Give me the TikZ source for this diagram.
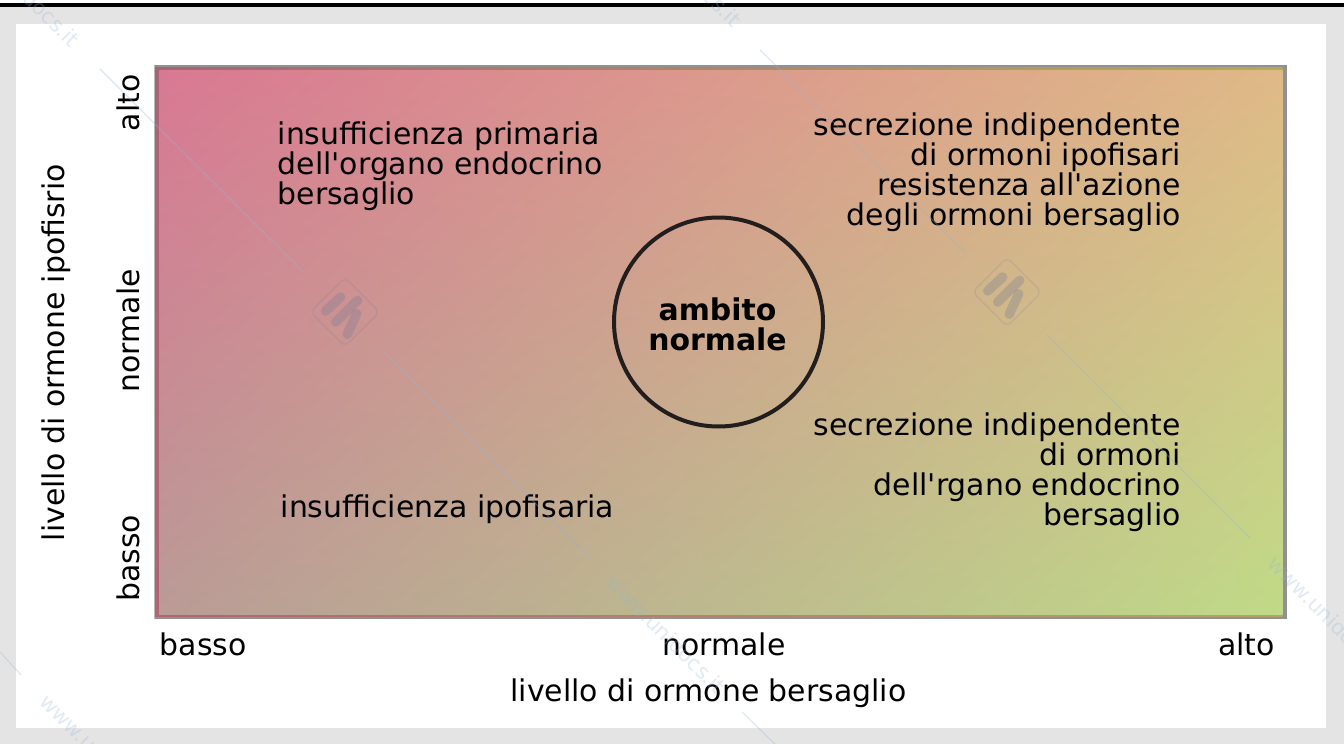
\documentclass[tikz,border=0pt]{standalone}
\usepackage{fontspec}
\newfontfamily\dvfont{DejaVu Sans}
\pgfdeclarefunctionalshading{fieldgrad}{\pgfpoint{0bp}{0bp}}{\pgfpoint{100bp}{100bp}}{}{
  25 sub 50 div exch 25 sub 50 div exch
  1 index .024 mul 1 index .120 mul add 2 index 2 index mul .003 mul add .729 add 3 1 roll
  1 index .247 mul 1 index -.135 mul add 2 index 2 index mul .007 mul add .608 add 3 1 roll
  1 index -.059 mul 1 index -.012 mul add 2 index 2 index mul .012 mul add .588 add 3 1 roll
  pop pop
}
\definecolor{pagegray}{RGB}{228,228,228}
\definecolor{framegray}{RGB}{145,145,145}
\definecolor{wmblue}{RGB}{150,180,215}
\definecolor{logoink}{RGB}{120,125,150}
\tikzset{
  lab/.style={font=\dvfont\fontsize{29.9}{30}\selectfont, inner sep=0pt, text=black},
  blocklab/.style={lab, align=#1},
  wmline/.style={draw=wmblue, opacity=.33, line width=1.1pt},
  wmtext/.style={font=\dvfont\fontsize{21}{21}\selectfont, text=wmblue, text opacity=.28, rotate=-45, inner sep=0pt},
  logostroke/.style={draw=logoink, opacity=.33, line cap=round},
}
\begin{document}
\begin{tikzpicture}[x=1pt,y=-1pt]
\useasboundingbox (0,0) rectangle (1344,744);
% page
\fill[white] (0,0) rectangle (1344,744);
\fill[pagegray] (0,6.5) rectangle (1344,744);
\fill[black] (0,3.3) rectangle (1344,6.5);
\fill[white] (16,24) rectangle (1326,728);
% frame
\fill[framegray] (155,65) rectangle (1287,619);
\fill[gray!55] (153.5,65) rectangle (155,619);
% coloured rim strips
\shade[top color={rgb,255:red,168;green,100;blue,118}, bottom color={rgb,255:red,178;green,100;blue,112}] (155,67.7) rectangle (159,616.7);
\shade[left color={rgb,255:red,168;green,100;blue,118}, right color={rgb,255:red,176;green,172;blue,85}] (155,67.7) rectangle (1282.5,70);
\shade[left color={rgb,255:red,178;green,100;blue,112}, right color={rgb,255:red,178;green,165;blue,105}] (155,614) rectangle (1282.5,616.7);
% field
\shade[shading=fieldgrad] (159,70) rectangle (1282.5,614);
% circle
\node[circle, draw={rgb,255:red,35;green,30;blue,30}, line width=4pt, minimum size=209pt, inner sep=0pt] (range) at (718.5,322) {};
% field labels
\node[blocklab=center, font=\dvfont\fontsize{29.9}{30}\selectfont\bfseries, anchor=center] (rangelabel) at (717.5,324.5) {ambito\\normale};
\node[blocklab=left, anchor=north west] (q1) at (277.5,122) {insufficienza primaria\\dell'organo endocrino\\bersaglio};
\node[blocklab=right, anchor=north east] (q2) at (1181,113) {secrezione indipendente\\di ormoni ipofisari\\resistenza all'azione\\degli ormoni bersaglio};
\node[blocklab=right, anchor=north east] (q3) at (1181,413) {secrezione indipendente\\di ormoni\\dell'rgano endocrino\\bersaglio};
\node[lab, anchor=base west] (q4) at (280.5,517) {insufficienza ipofisaria};
% axes
\node[lab, anchor=base west] (xlow) at (159.5,655.5) {basso};
\node[lab, anchor=base] (xmid) at (724,655.5) {normale};
\node[lab, anchor=base east] (xhigh) at (1275,655.5) {alto};
\node[lab, anchor=base] (xtitle) at (708.5,701) {livello di ormone bersaglio};
\node[lab, anchor=base west, rotate=90] (ylow) at (139.5,602) {basso};
\node[lab, anchor=base west, rotate=90] (ymid) at (139.5,392.5) {normale};
\node[lab, anchor=base west, rotate=90] (yhigh) at (139.5,131.5) {alto};
\node[lab, anchor=base west, rotate=90] (ytitle) at (64,541.5) {livello di ormone ipofisrio};
% watermark
\begin{scope}
\clip (0,0) rectangle (1344,744);
\draw[wmline] (100,69) -- (303,272);
\draw[wmline] (385,353) -- (590,558);
\draw[wmline] (760,50) -- (966,253);
\draw[wmline] (1047,335) -- (1250,538);
\draw[wmline] (0,652) -- (21,675);
\draw[wmline] (742,712) -- (775,744);
\node[wmtext] (wm1) at (20,-13) {www.unidocs.it};
\node[wmtext] (wm2) at (682,-33) {www.unidocs.it};
\node[wmtext] (wm3) at (666,634) {www.unidocs.it};
\node[wmtext] (wm4) at (1328,616) {www.unidocs.it};
\node[wmtext] (wm5) at (100,754) {www.unidocs.it};
\foreach \dx/\dy in {0/0,662/-20}{
  \begin{scope}[shift={(\dx,\dy)}]
    \draw[draw=logoink, opacity=.2, line width=1.3pt, rounded corners=6pt] (310.5,312) -- (345,277.5) -- (379.5,312) -- (345,346.5) -- cycle;
    \draw[logostroke, line width=9.5pt] (325.7,311) -- (340.7,297);
    \draw[logostroke, line width=9.5pt] (335.7,322) -- (357.7,300.3);
    \draw[logostroke, line width=9.5pt] (347.3,334.3) -- (356.7,313.7);
  \end{scope}
}
\end{scope}
\end{tikzpicture}
\end{document}
